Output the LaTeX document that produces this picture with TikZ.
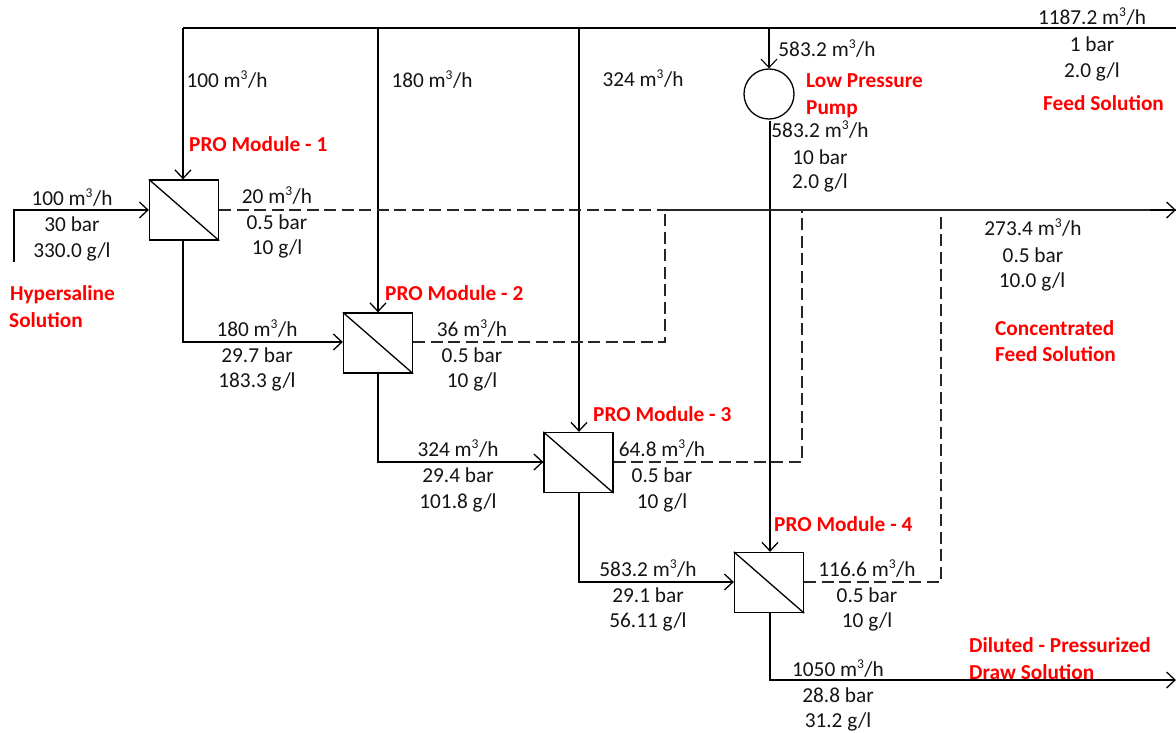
\documentclass[tikz,border=0pt]{standalone}
\usepackage{fontspec}
\setmainfont{Carlito}
\usetikzlibrary{arrows.meta}
\tikzset{
  modbox/.style={draw,line width=1.3pt,minimum width=69pt,minimum height=60pt,inner sep=0pt,fill=white},
  pumpc/.style={draw,circle,line width=1.3pt,minimum size=50pt,inner sep=0pt},
  barb/.tip={Straight Barb[length=8.5pt,width=16pt,line width=1.3pt]},
  flow/.style={line width=1.3pt,-barb},
  plain/.style={line width=1.3pt},
  thinf/.style={line width=1.1pt},
  dashf/.style={line width=1.3pt,dash pattern=on 12pt off 5.5pt,draw=black!85},
  lab/.style={inner sep=0pt,yshift=-1pt,text height=13pt,text depth=0pt,font=\fontsize{21.3}{21.3}\selectfont,text=black!92},
  redl/.style={inner sep=0pt,yshift=-1pt,anchor=west,text height=13pt,text depth=0pt,font=\fontsize{21.3}{21.3}\selectfont\bfseries,text=red}
}
\newcommand{\mh}{m\textsuperscript{\fontsize{13.5}{13.5}\selectfont 3}/h}
\begin{document}
\begin{tikzpicture}[x=1pt,y=-1pt]
\useasboundingbox (0,0) rectangle (1176,733);
\node[modbox] (m1) at (184,210) {};
\node[modbox] (m2) at (378,343) {};
\node[modbox] (m3) at (578.5,462.5) {};
\node[modbox] (m4) at (769,582.5) {};
\node[pumpc] (pump) at (769,94) {};
\foreach \m in {m1,m2,m3,m4} \draw[plain] (\m.north west) -- (\m.south east);
\coordinate (hs) at (14,262);
\coordinate (hc) at (14,210);
\coordinate (tl) at (183,28);
\coordinate (tr) at (1176,28);
\coordinate (t2) at (378,28);
\coordinate (t3) at (579,28);
\coordinate (t4) at (769,28);
\coordinate (pe) at (770,121);
\coordinate (c1) at (183,342);
\coordinate (c2) at (378,462);
\coordinate (c3) at (579,582);
\coordinate (c4) at (770,680);
\coordinate (dr) at (1176,680);
\coordinate (cr) at (1176,210);
\coordinate (as) at (1150,210);
\coordinate (d2a) at (665,342);
\coordinate (d2b) at (665,210);
\coordinate (d3a) at (802,462);
\coordinate (d3b) at (802,210);
\coordinate (d4a) at (941,582);
\coordinate (d4b) at (941,210);
% feed lines
\draw[plain] (tr) -- (tl);
\draw[flow] (tl) -- (tl |- m1.north);
\draw[flow] (t2) -- (t2 |- m2.north);
\draw[flow] (t3) -- (t3 |- m3.north);
\draw[thinf,-{Straight Barb[length=8.5pt,width=16pt,line width=1.1pt]}] (t4) -- (pump.north);
\draw[flow] (pe) -- (pe |- m4.north);
% draw side
\draw[flow] (hs) -- (hc) -- (m1.west);
\draw[flow] (m1.south -| c1) -- (c1) -- (m2.west |- c1);
\draw[flow] (m2.south -| c2) -- (c2) -- (m3.west |- c2);
\draw[flow] (m3.south -| c3) -- (c3) -- (m4.west |- c3);
\draw[flow] (m4.south -| c4) -- (c4) -- (dr);
% permeate
\draw[dashf] (m1.east) -- (cr);
\draw[dashf] (m2.east |- d2a) -- (d2a) -- (d2b) -- (cr);
\draw[dashf] (m3.east |- d3a) -- (d3a) -- (d3b) -- (cr);
\draw[dashf] (m4.east |- d4a) -- (d4a) -- (d4b) -- (cr);
\draw[flow] (as) -- (cr);
% labels
\node[lab] (l1) at (227,80) {100 \mh};
\node[lab] (l2) at (432,80) {180 \mh};
\node[lab] (l3) at (643,79) {324 \mh};
\node[lab] (l4) at (1092,17) {1187.2 \mh};
\node[lab] (l5) at (1092,44) {1 bar};
\node[lab] (l6) at (1092,70) {2.0 g/l};
\node[lab] (l7) at (827,49) {583.2 \mh};
\node[lab] (l8) at (820,130) {583.2 \mh};
\node[lab] (l9) at (820,157) {10 bar};
\node[lab] (l10) at (820,181) {2.0 g/l};
\node[lab] (a1) at (72,198) {100 \mh};
\node[lab] (a2) at (72,224) {30 bar};
\node[lab] (a3) at (72,250) {330.0 g/l};
\node[lab] (b1) at (277,196) {20 \mh};
\node[lab] (b2) at (277,222) {0.5 bar};
\node[lab] (b3) at (277,247) {10 g/l};
\node[lab] (c1l) at (257,329) {180 \mh};
\node[lab] (c2l) at (257,355) {29.7 bar};
\node[lab] (c3l) at (257,380) {183.3 g/l};
\node[lab] (e1) at (472,329) {36 \mh};
\node[lab] (e2) at (472,355) {0.5 bar};
\node[lab] (e3) at (472,380) {10 g/l};
\node[lab] (f1) at (458,449) {324 \mh};
\node[lab] (f2) at (458,475) {29.4 bar};
\node[lab] (f3) at (458,501) {101.8 g/l};
\node[lab] (g1) at (662,449) {64.8 \mh};
\node[lab] (g2) at (662,475) {0.5 bar};
\node[lab] (g3) at (662,501) {10 g/l};
\node[lab] (h1) at (648,569) {583.2 \mh};
\node[lab] (h2) at (648,595) {29.1 bar};
\node[lab] (h3) at (648,620) {56.11 g/l};
\node[lab] (i1) at (867,569) {116.6 \mh};
\node[lab] (i2) at (867,595) {0.5 bar};
\node[lab] (i3) at (867,620) {10 g/l};
\node[lab] (j1) at (838,669) {1050 \mh};
\node[lab] (j2) at (838,695) {28.8 bar};
\node[lab] (j3) at (838,720) {31.2 g/l};
\node[lab] (k1) at (1033,228) {273.4 \mh};
\node[lab] (k2) at (1033,255) {0.5 bar};
\node[lab] (k3) at (1032,280) {10.0 g/l};
\node[redl] (r1) at (189,144) {PRO Module - 1};
\node[redl] (r2) at (385,293) {PRO Module - 2};
\node[redl] (r3) at (593,414) {PRO Module - 3};
\node[redl] (r4) at (774,524) {PRO Module - 4};
\node[redl] (r5) at (806,80) {Low Pressure};
\node[redl] (r6) at (806,107) {Pump};
\node[redl] (r7) at (1043,103) {Feed Solution};
\node[redl] (r8) at (10,293) {Hypersaline};
\node[redl] (r9) at (9,320) {Solution};
\node[redl] (r10) at (995,328) {Concentrated};
\node[redl] (r11) at (995,354) {Feed Solution};
\node[redl] (r12) at (969,645) {Diluted - Pressurized};
\node[redl] (r13) at (969,672) {Draw Solution};
\end{tikzpicture}
\end{document}
